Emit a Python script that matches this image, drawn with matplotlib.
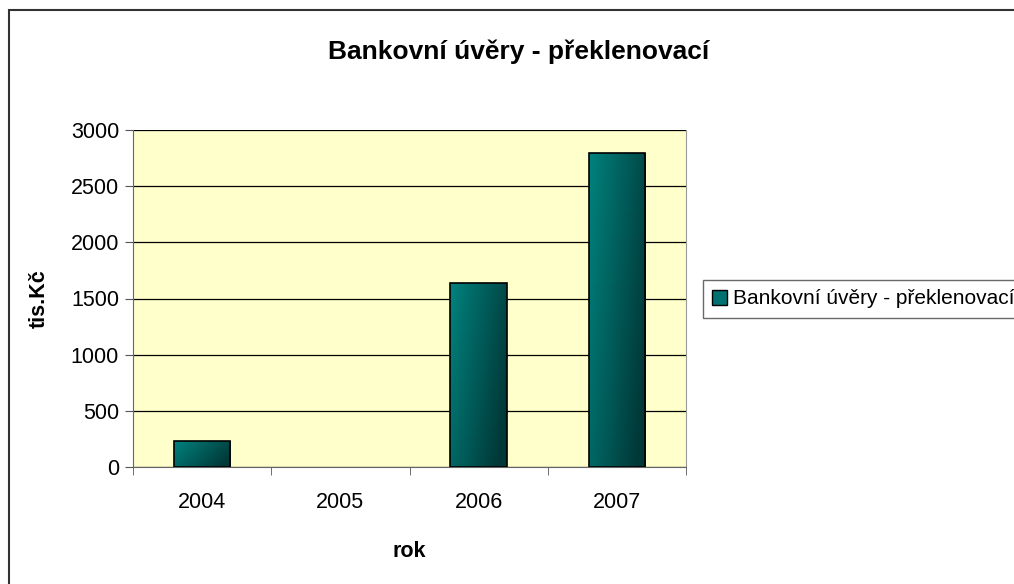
import numpy as np
import matplotlib.pyplot as plt
from matplotlib.patches import Rectangle, Patch

plt.rcParams['font.family'] = ['Liberation Sans', 'DejaVu Sans']

roky = ['2004', '2005', '2006', '2007']
uvery = [230, 0, 1635, 2795]
nazev = 'Bankovní úvěry - překlenovací'

fig = plt.figure(figsize=(10.14, 5.84), dpi=100)
# ramecek kolem celeho grafu
fig.patches.append(Rectangle((9 / 1014, -0.1), 1.2, 1 - 10 / 584 + 0.1,
                             transform=fig.transFigure, fill=False,
                             edgecolor='#333333', linewidth=1.5))

ax = fig.add_axes([133 / 1014, 117 / 584, 553 / 1014, 337 / 584])
ax.set_facecolor('#FFFFCC')

x = np.arange(len(roky))
sloupce = ax.bar(x, uvery, width=0.41, facecolor='none', edgecolor='black',
                 linewidth=1.2, zorder=3)

# prechod barvy ve sloupcich
gx, gy = np.meshgrid(np.linspace(0, 1, 60), np.linspace(0, 1, 60))
t = np.clip(0.75 * gx + 0.35 * gy, 0, 1)
svetla = np.array([0, 130, 125]) / 255
tmava = np.array([0, 55, 55]) / 255
grad = svetla[None, None, :] * (1 - t[..., None]) + tmava[None, None, :] * t[..., None]
for s in sloupce:
    if s.get_height() <= 0:
        s.set_linewidth(0)
        continue
    x0, w, h = s.get_x(), s.get_width(), s.get_height()
    im = ax.imshow(grad, extent=[x0, x0 + w, 0, h], origin='upper',
                   aspect='auto', zorder=2)
    im.set_clip_path(s)

ax.set_xlim(-0.5, len(roky) - 0.5)
ax.set_ylim(0, 3000)
ax.set_yticks(np.arange(0, 3001, 500))
ax.yaxis.grid(True, color='black', linewidth=0.9, zorder=1)
ax.set_axisbelow(True)

ax.set_xticks(x)
ax.set_xticklabels(roky)
ax.set_xticks(np.arange(-0.5, len(roky), 1), minor=True)
ax.tick_params(axis='x', which='major', length=0, pad=18, labelsize=15.5)
ax.tick_params(axis='x', which='minor', length=6, color='#555555')
ax.tick_params(axis='y', length=6, color='#555555', labelsize=15.5, pad=4)

ax.spines['top'].set_visible(False)
ax.spines['right'].set_color('#999999')
ax.spines['bottom'].set_color('#666666')
ax.spines['left'].set_color('#666666')

ax.set_xlabel('rok', fontsize=15.5, fontweight='bold', labelpad=20)
ax.set_ylabel('tis.Kč', fontsize=15.5, fontweight='bold', labelpad=15)
fig.text(519 / 1014, 1 - 52 / 584, nazev, ha='center', va='center',
         fontsize=19, fontweight='bold')

fig.legend(handles=[Patch(facecolor='#007070', edgecolor='black', label=nazev)],
           loc='center left', bbox_to_anchor=(703 / 1014, 1 - 299 / 584),
           fontsize=15, frameon=True, fancybox=False, edgecolor='#444444',
           handlelength=0.7, handleheight=0.7, handletextpad=0.3,
           borderpad=0.45, borderaxespad=0)

fig.savefig('out.png', dpi=100)
